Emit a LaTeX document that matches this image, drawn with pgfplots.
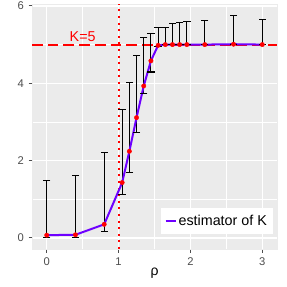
\documentclass[border=0pt]{standalone}
\usepackage{fontspec}
\setmainfont{Liberation Sans}
\usepackage{pgfplots}
\pgfplotsset{compat=1.18}
\usepackage{pgfplotstable}
\definecolor{bggray}{HTML}{EBEBEB}
\definecolor{gray30}{HTML}{4D4D4D}
\definecolor{estpurple}{RGB}{110,0,255}
\pgfplotstableread{
x y lo hi
0 0.07 0 1.48
0.4 0.08 0 1.62
0.8 0.35 0.16 2.22
1.05 1.43 1.13 3.31
1.15 2.24 1.70 4.03
1.25 3.11 2.73 4.72
1.35 3.93 3.74 5.18
1.45 4.58 4.29 5.28
1.55 4.98 4.95 5.44
1.65 5.00 5.00 5.44
1.75 5.00 5.00 5.54
1.85 5.00 5.00 5.57
1.95 5.00 5.00 5.59
2.2 5.00 5.00 5.63
2.6 5.01 5.00 5.76
3.0 5.00 5.00 5.65
}\datatable
\begin{document}
\begin{tikzpicture}
\begin{axis}[
  name=ax, at={(0,0)}, anchor=south west,
  scale only axis, width=245pt, height=245pt,
  xmin=-0.205, xmax=3.205, ymin=-0.288, ymax=6.05,
  axis background/.style={fill=bggray},
  axis line style={draw=bggray},
  xtick={0,1,2,3}, ytick={0,2,4,6},
  minor xtick={0.5,1.5,2.5}, minor ytick={1,3,5},
  grid=both,
  major grid style={white, line width=1.3pt},
  minor grid style={white, line width=0.65pt},
  xtick pos=bottom, ytick pos=left,
  tick align=outside, major tick length=3.5pt, minor tick length=0pt,
  tick style={gray30, line width=1pt},
  /pgf/number format/assume math mode=true,
  ticklabel style={font=\fontsize{11.2}{13}\selectfont, text=gray30, inner sep=0pt},
  xticklabel style={yshift=-5pt},
  yticklabel style={xshift=-4.5pt},
  legend style={at={(axis description cs:0.9837,0.0612)}, anchor=south east,
    fill=white, draw=none, font=\fontsize{14.3}{16}\selectfont,
    inner xsep=4pt, inner ysep=5pt},
  legend cell align=left,
  legend image code/.code={\draw[line width=2pt] (0pt,0pt) -- (10pt,0pt);},
  clip=false,
]
\addplot[forget plot, red, line width=2pt, dash pattern=on 10.7pt off 5pt] coordinates {(-0.205,5) (3.205,5)};
\addplot[forget plot, red, line width=2pt, dash pattern=on 2pt off 4.6pt] coordinates {(1,-0.288) (1,6.05)};
\addplot[forget plot, black, draw=none, mark=none,
  error bars/.cd, y dir=both, y explicit,
  error bar style={draw=black, line width=1.1pt, solid},
  error mark=none]
  table[x=x, y=y, y error plus expr=\thisrow{hi}-\thisrow{y}, y error minus expr=\thisrow{y}-\thisrow{lo}] {\datatable};
\addplot[forget plot, only marks, mark=-, mark size=3.7pt, black, line width=1.1pt] table[x=x, y=hi] {\datatable};
\addplot[forget plot, only marks, mark=-, mark size=3.7pt, black, line width=1.1pt] table[x=x, y=lo] {\datatable};
\addplot[estpurple, line width=2pt, mark=none] table[x=x, y=y] {\datatable};
\addlegendentry{estimator of K}
\addplot[forget plot, only marks, mark=*, mark size=2.2pt, red, draw=none, fill=red] table[x=x, y=y] {\datatable};
\node[text=red, font=\fontsize{14.3}{16}\selectfont, anchor=base, inner sep=0pt] at (axis cs:0.5,5.07) {K=5};
\end{axis}
\node[font=\fontsize{14}{16}\selectfont, anchor=center] at (122.5pt,-24pt) {ρ};
\pgfresetboundingbox
\path[use as bounding box] (-32pt,-38pt) rectangle (255pt,249pt);
\end{tikzpicture}
\end{document}
